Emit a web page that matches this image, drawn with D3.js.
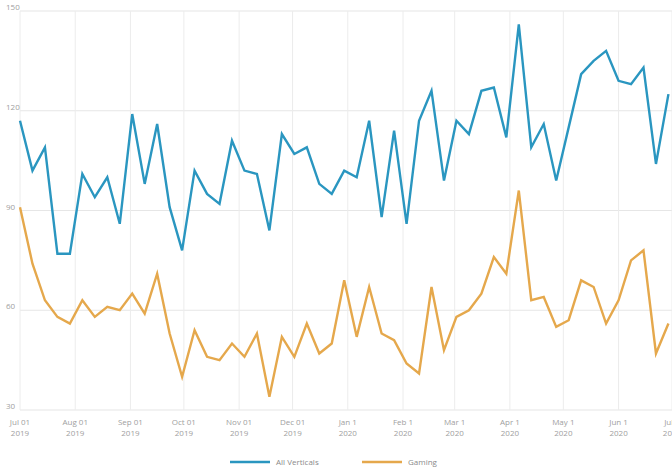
<!DOCTYPE html>
<html>
<head>
<meta charset="utf-8">
<script src="https://cdn.jsdelivr.net/npm/d3@7"></script>
<style>
  html, body { margin: 0; padding: 0; background: #fff; }
  svg { display: block; }
  text { font-family: "Open Sans", "Noto Sans", sans-serif; }
</style>
</head>
<body>
<svg id="chart" width="672" height="473"></svg>
<script>
// ---- data ----
const startDate = "2019-07-01";
const weekCount = 53;
const allVerticals = [117, 102, 109, 77, 77, 101, 94, 100, 86, 119, 98, 116, 91, 78, 102, 95, 92, 111, 102, 101, 84, 113, 107, 109, 98, 95, 102, 100, 117, 88, 114, 86, 117, 126, 99, 117, 113, 126, 127, 112, 146, 109, 116, 99, 115, 131, 135, 138, 129, 128, 133, 104, 125];
const gaming = [91, 74, 63, 58, 56, 63, 58, 61, 60, 65, 59, 71, 53, 40, 54, 46, 45, 50, 46, 53, 34, 52, 46, 56, 47, 50, 69, 52, 67, 53, 51, 44, 41, 67, 48, 58, 60, 65, 76, 71, 96, 63, 64, 55, 57, 69, 67, 56, 63, 75, 78, 47, 56];
const yTicks = [30, 60, 90, 120, 150];
const xTickDates = ["2019-07-01", "2019-08-01", "2019-09-01", "2019-10-01", "2019-11-01", "2019-12-01", "2020-01-01", "2020-02-01", "2020-03-01", "2020-04-01", "2020-05-01", "2020-06-01", "2020-07-01"];
const xTickLabels = [["Jul 01", "2019"], ["Aug 01", "2019"], ["Sep 01", "2019"], ["Oct 01", "2019"], ["Nov 01", "2019"], ["Dec 01", "2019"], ["Jan 1", "2020"], ["Feb 1", "2020"], ["Mar 1", "2020"], ["Apr 1", "2020"], ["May 1", "2020"], ["Jun 1", "2020"], ["Jul 1", "2020"]];
const seriesNames = ["All Verticals", "Gaming"];
const seriesColors = ["#2a96c0", "#e5a84c"];

// ---- build ----
const parse = d3.utcParse("%Y-%m-%d");
const d0 = parse(startDate);
const dates = d3.range(weekCount).map(i => d3.utcDay.offset(d0, 7 * i));

const svg = d3.select("#chart");
const x = d3.scaleUtc().domain([parse("2019-07-01"), parse("2020-07-01")]).range([20, 672]);
const y = d3.scaleLinear().domain([30, 150]).range([410, 11]);

// horizontal grid
svg.append("g").selectAll("line").data(yTicks).join("line")
  .attr("x1", 20).attr("x2", 672)
  .attr("y1", d => y(d)).attr("y2", d => y(d))
  .attr("stroke", "#e6e6e6").attr("stroke-width", 1.2);

// vertical grid
const xt = xTickDates.map(parse);
svg.append("g").selectAll("line").data(xt).join("line")
  .attr("x1", d => x(d)).attr("x2", d => x(d))
  .attr("y1", y(150)).attr("y2", y(30))
  .attr("stroke", "#ececec").attr("stroke-width", 1);

// y labels
svg.append("g").selectAll("text").data(yTicks).join("text")
  .attr("x", 6).attr("y", d => y(d) - 1)
  .attr("font-size", 8).attr("fill", "#a0a0a0")
  .text(d => d);

// x labels
const xl = svg.append("g").selectAll("text").data(xt).join("text")
  .attr("x", d => x(d)).attr("y", 425)
  .attr("text-anchor", "middle").attr("font-size", 8).attr("fill", "#a0a0a0");
xl.append("tspan").attr("x", d => x(d)).text((d, i) => xTickLabels[i][0]);
xl.append("tspan").attr("x", d => x(d)).attr("dy", 11).text((d, i) => xTickLabels[i][1]);

// lines
const line = d3.line().x((d, i) => x(dates[i])).y(d => y(d));
[allVerticals, gaming].forEach((s, si) => {
  svg.append("path").datum(s)
    .attr("fill", "none")
    .attr("stroke", seriesColors[si])
    .attr("stroke-width", 2.4)
    .attr("stroke-linejoin", "miter")
    .attr("d", line);
});

// legend
const legendX = [230, 362];
seriesNames.forEach((n, i) => {
  svg.append("line").attr("x1", legendX[i]).attr("x2", legendX[i] + 40)
    .attr("y1", 462).attr("y2", 462)
    .attr("stroke", seriesColors[i]).attr("stroke-width", 2.4);
  svg.append("text").attr("x", legendX[i] + 46).attr("y", 465)
    .attr("font-size", 8).attr("fill", "#8a8a8a").text(n);
});
</script>
</body>
</html>
